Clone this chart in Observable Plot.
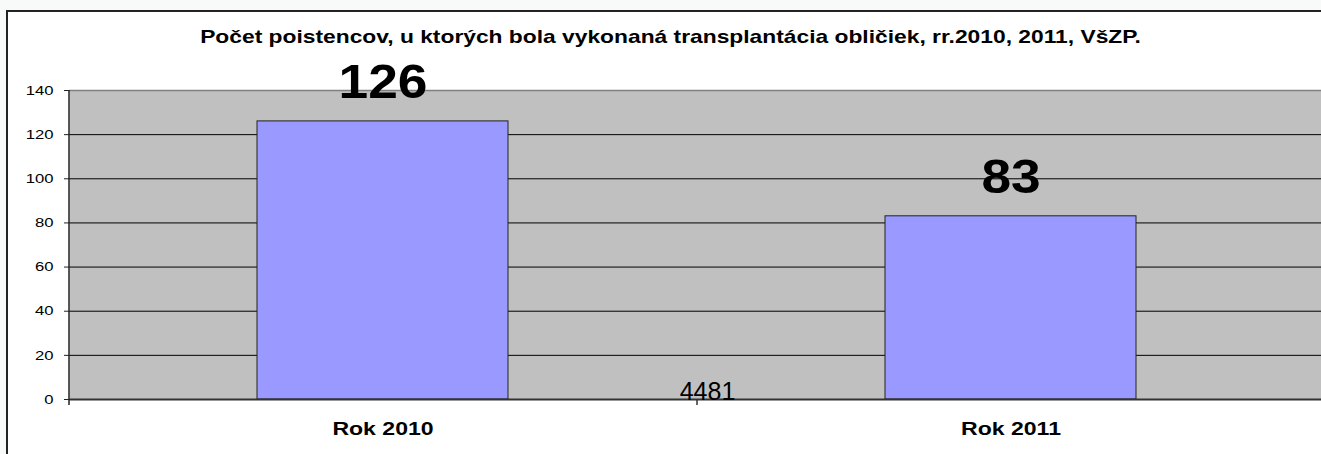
<!DOCTYPE html>
<html><head><meta charset="utf-8">
<script src="https://cdn.jsdelivr.net/npm/d3@7"></script>
<script src="https://cdn.jsdelivr.net/npm/@observablehq/plot@0.6"></script>
<style>
body{margin:0;background:#f8fafa;}
#wrap{position:relative;width:1321px;height:454px;overflow:hidden;}
#box{position:absolute;left:6px;top:10px;width:1400px;height:500px;border-left:2px solid #222;border-top:2px solid #222;background:#fff;}
#chart{position:absolute;left:0;top:0;}
</style></head><body>
<div id="wrap"><div id="box"></div><div id="chart"></div></div>
<script>
const title = "Počet poistencov, u ktorých bola vykonaná transplantácia obličiek, rr.2010, 2011, VšZP.";
const categories = ["Rok 2010", "Rok 2011"];
const values = [126, 83];
const yTicks = [0, 20, 40, 60, 80, 100, 120, 140];
const strayLabel = ["4481"];

const data = categories.map((c, i) => ({category: c, value: values[i]}));
const font = "'Liberation Sans', Arial, sans-serif";

const chart = Plot.plot({
  width: 1321,
  height: 454,
  marginLeft: 69,
  marginRight: -4,
  marginTop: 90,
  marginBottom: 55,
  style: {background: "transparent", fontFamily: font, color: "#000", overflow: "hidden"},
  x: {domain: categories, paddingInner: 0.6, paddingOuter: 0.3, label: null},
  y: {domain: [0, 140], label: null},
  marks: [
    Plot.frame({fill: "#c0c0c0"}),
    Plot.ruleY(yTicks.filter(d => d > 0 && d < 140), {stroke: "#000", strokeWidth: 1}),
    Plot.ruleY([140], {stroke: "#808080", strokeWidth: 1.5}),
    Plot.barY(data, {x: "category", y: "value", fill: "#9999ff", stroke: "#222", strokeWidth: 1}),
    Plot.ruleY([0], {stroke: "#333", strokeWidth: 2}),
    Plot.ruleX([categories[0]], {x: d => d, dx: -314, stroke: "#222", strokeWidth: 1.5, insetBottom: -6}),
    Plot.ruleX([categories[1]], {x: d => d, dx: -314, y1: 0, y2: 0, stroke: "#333", strokeWidth: 1.5, insetBottom: -6}),
    Plot.axisY({ticks: yTicks, tickSize: 5, tickPadding: 11, fontSize: 13, label: null, stroke: "#222"}),
    Plot.axisX({tickSize: 0, tickPadding: 23, fontSize: 18, fontWeight: "bold", label: null}),
    Plot.text(data, {x: "category", y: "value", text: d => String(d.value), dy: -39, lineAnchor: "middle", fontSize: 48, fontWeight: "bold", fill: "#000", ariaDescription: "bar-label"}),
    Plot.text(strayLabel, {frameAnchor: "bottom", text: d => d, dx: 10, dy: -8, lineAnchor: "middle", fontSize: 25, fill: "#000", ariaDescription: "stray-label"}),
    Plot.text([title], {frameAnchor: "top", text: d => d, dx: -27, dy: -54, lineAnchor: "middle", fontSize: 19, fontWeight: "bold", fill: "#000", ariaDescription: "chart-title"})
  ]
});
document.getElementById("chart").appendChild(chart);

// horizontal stretch of the text, as in the (stretched) reference picture
function stretch(selector, k) {
  chart.querySelectorAll(selector).forEach(t => {
    const L = t.getComputedTextLength();
    t.setAttribute("textLength", L * k);
    t.setAttribute("lengthAdjust", "spacingAndGlyphs");
  });
}
stretch('g[aria-description="chart-title"] text', 1.2);
stretch('g[aria-label="x-axis tick label"] text', 1.28);
stretch('g[aria-label="y-axis tick label"] text', 1.28);
stretch('g[aria-description="bar-label"] text', 1.11);
</script>
</body></html>
